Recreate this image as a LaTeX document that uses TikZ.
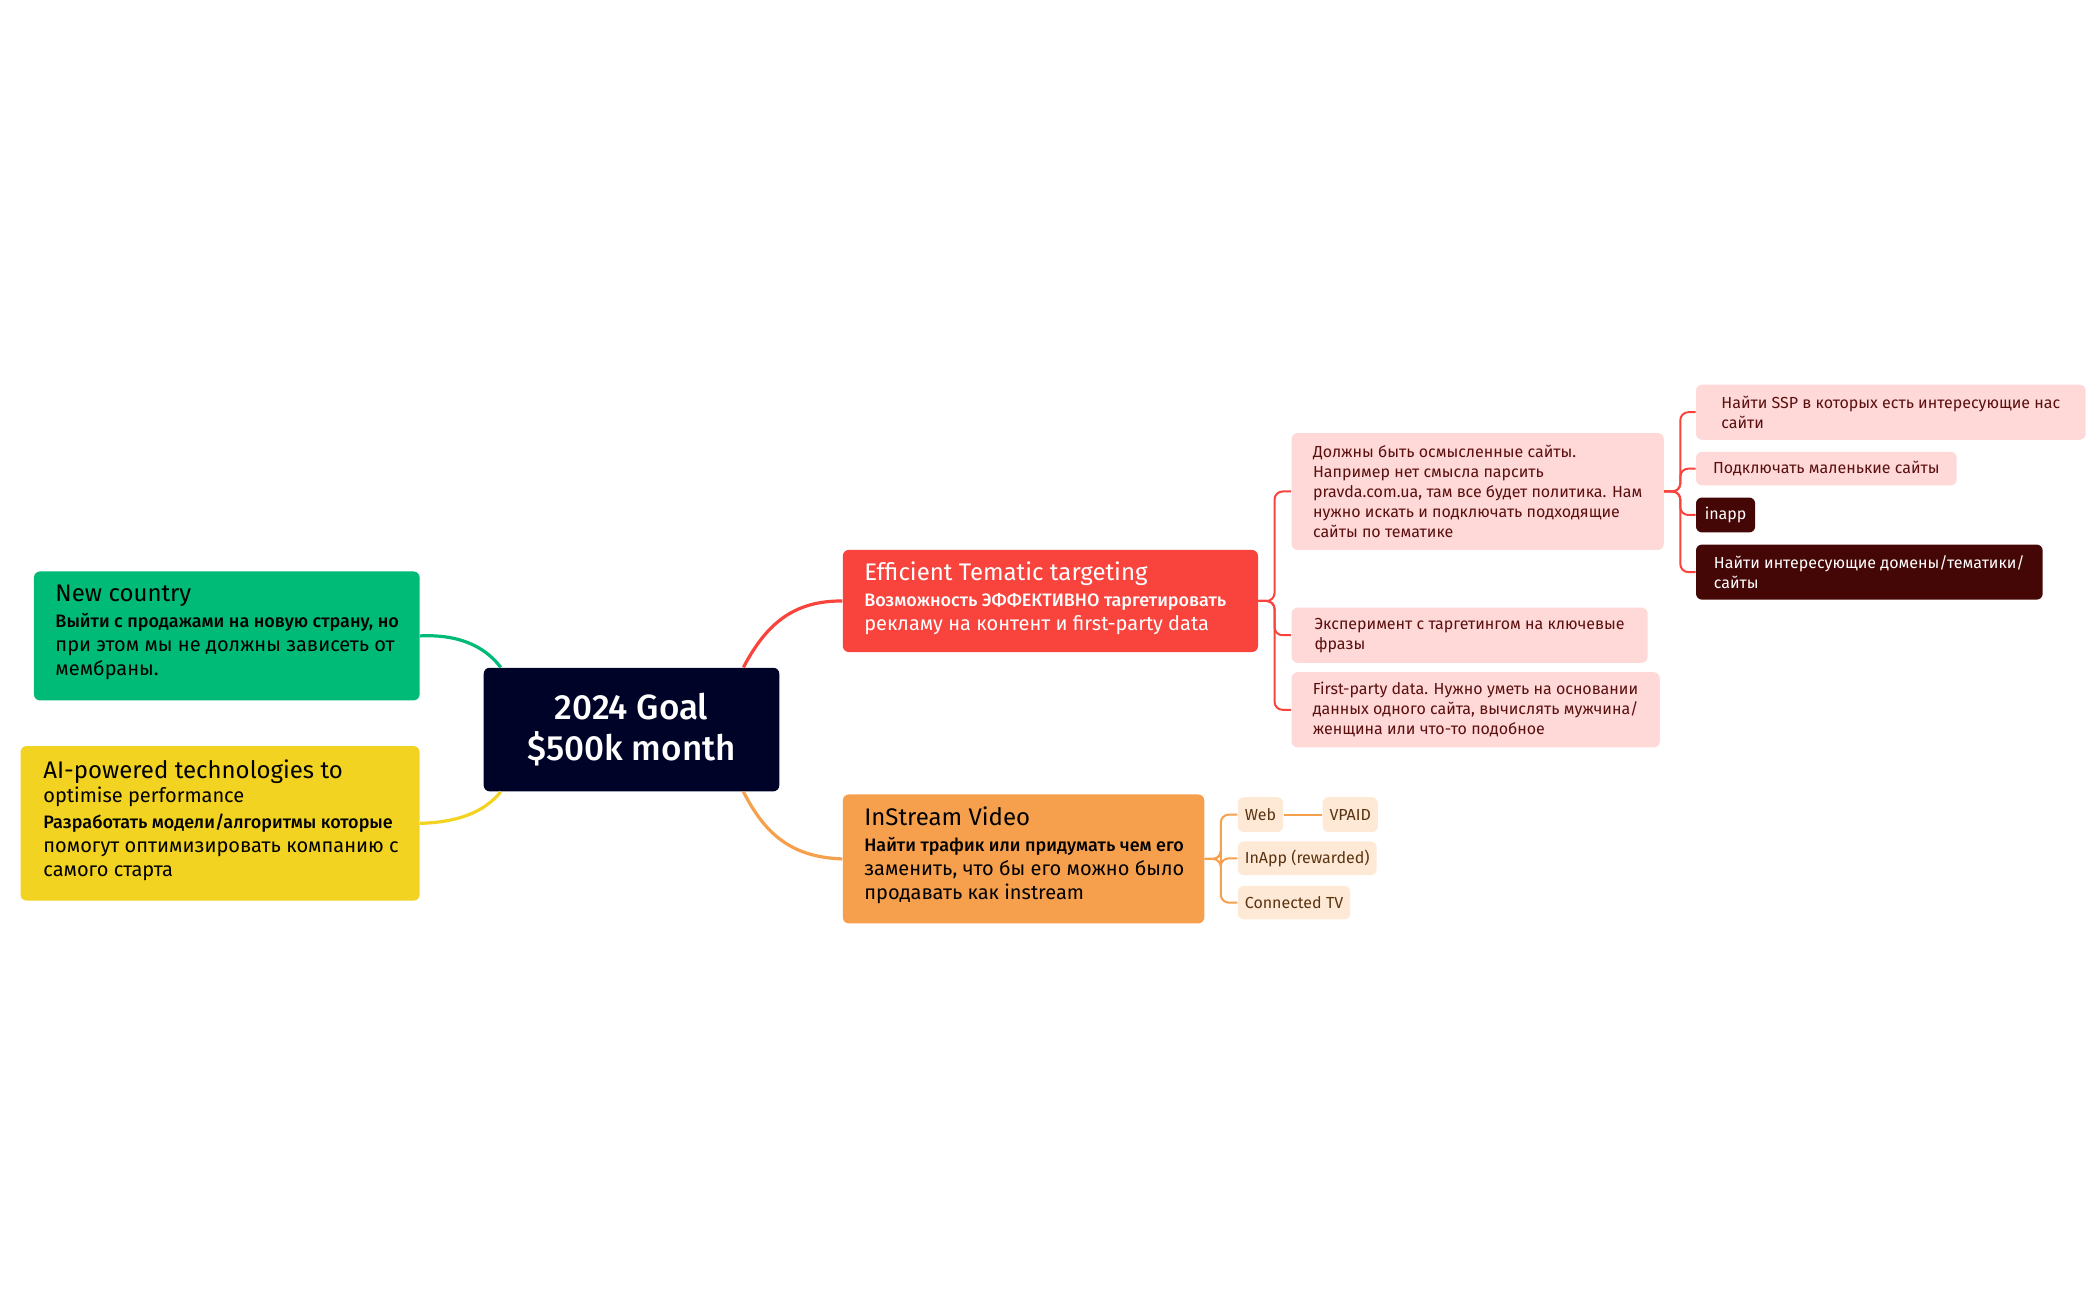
\documentclass[tikz,border=0pt]{standalone}
\usepackage{fontspec}
\setmainfont{Fira Sans}[BoldFont={Fira Sans Medium}]
\usetikzlibrary{positioning,calc}
\definecolor{goalnavy}{HTML}{000328}
\definecolor{newgreen}{HTML}{00BA78}
\definecolor{aiyellow}{HTML}{F2D321}
\definecolor{tematicred}{HTML}{F8443D}
\definecolor{streamorange}{HTML}{F6A04D}
\definecolor{redpale}{HTML}{FFD8D8}
\definecolor{redtext}{HTML}{5A0F0F}
\definecolor{reddark}{HTML}{450606}
\definecolor{orangepale}{HTML}{FEE8D6}
\definecolor{orangetext}{HTML}{5A3410}
\newcommand{\headsize}{\fontsize{12}{14}\selectfont\mdseries}
\newcommand{\bodysize}{\fontsize{9}{13.1}\selectfont\bfseries}

\begin{document}
\begin{tikzpicture}[
        x=0.672pt, y=-0.672pt,
        main/.style={rounded corners=3pt, anchor=north west, align=left, inner sep=0pt},
        boxtext/.style={anchor=north west, align=left, inner sep=0pt},
        sub/.style={rounded corners=3pt, anchor=north west, align=left, inner xsep=3.5pt, inner ysep=3pt,
            font=\fontsize{8}{10}\selectfont},
        redsub/.style={sub, fill=redpale, text=redtext},
        darksub/.style={sub, fill=reddark, text=white},
        orangesub/.style={sub, fill=orangepale, text=orangetext},
        branch/.style={line width=1.6pt},
        twig/.style={line width=1pt, rounded corners=4pt}
    ]
        \useasboundingbox (0,0) rectangle (1560,968);

        % Central goal
        \node[fill=goalnavy, text=white, rounded corners=3pt, minimum width=220*0.672pt, minimum height=92*0.672pt,
            align=center, font=\fontsize{17.5}{20.8}\selectfont\bfseries] (goal) at (470,543) {2024 Goal\\\$500k month};

        % Main branches
        \node[main, fill=newgreen, minimum width=287*0.672pt, minimum height=96*0.672pt] (newc) at (25,425) {};
        \node[boxtext] (newclbl) at (41,435)
            {\headsize New country\\[1pt]
             \bodysize Выйти с продажами на новую страну, но\\при этом мы не должны зависеть от\\мембраны.};

        \node[main, fill=aiyellow, minimum width=297*0.672pt, minimum height=115*0.672pt] (ai) at (15,555) {};
        \node[boxtext] (ailbl) at (32,565)
            {\headsize AI-powered technologies to\\optimise performance\\[1pt]
             \bodysize Разработать модели/алгоритмы которые\\помогут оптимизировать компанию с\\самого старта};

        \node[main, fill=tematicred, minimum width=309*0.672pt, minimum height=76*0.672pt] (tematic) at (627,409) {};
        \node[boxtext, text=white] (tematiclbl) at (643,418)
            {\headsize Efficient Tematic targeting\\[1pt]
             \bodysize Возможность ЭФФЕКТИВНО таргетировать\\рекламу на контент и first-party data};

        \node[main, fill=streamorange, minimum width=269*0.672pt, minimum height=96*0.672pt] (stream) at (627,591) {};
        \node[boxtext] (streamlbl) at (643,600)
            {\headsize InStream Video\\[1pt]
             \bodysize Найти трафик или придумать чем его\\заменить, что бы его можно было\\продавать как instream};

        % Tematic sub-topics
        \node[redsub, minimum width=277*0.672pt, minimum height=87*0.672pt] (sense) at (961,322)
            {Должны быть осмысленные сайты.\\Например нет смысла парсить\\pravda.com.ua, там все будет политика. Нам\\нужно искать и подключать подходящие\\сайты по тематике};
        \node[redsub, minimum width=265*0.672pt, minimum height=41*0.672pt] (phrase) at (961,452)
            {Эксперимент с таргетингом на ключевые\\фразы};
        \node[redsub, minimum width=274*0.672pt, minimum height=56*0.672pt] (firstp) at (961,500)
            {First-party data. Нужно уметь на основании\\данных одного сайта, вычислять мужчина/\\женщина или что-то подобное};

        \node[redsub, minimum width=290*0.672pt, minimum height=41*0.672pt] (ssp) at (1262,286)
            {Найти SSP в которых есть интересующие нас\\сайти};
        \node[redsub, minimum width=194*0.672pt, minimum height=25*0.672pt] (small) at (1262,336)
            {Подключать маленькие сайты};
        \node[darksub, minimum width=44*0.672pt, minimum height=26*0.672pt] (inapp) at (1262,370) {inapp};
        \node[darksub, minimum width=258*0.672pt, minimum height=41*0.672pt] (domains) at (1262,405)
            {Найти интересующие домены/тематики/\\сайты};

        % InStream sub-topics
        \node[orangesub, minimum height=26*0.672pt] (web) at (921,593) {Web};
        \node[orangesub, minimum height=26*0.672pt] (vpaid) at (984,593) {VPAID};
        \node[orangesub, minimum height=25*0.672pt] (rewarded) at (921,626) {InApp (rewarded)};
        \node[orangesub, minimum height=25*0.672pt] (ctv) at (921,659) {Connected TV};

        % Branches from the goal
        \draw[branch, tematicred] ($(goal.north east)+(-27,0)$) .. controls (570,465) and (590,447) .. (tematic.west);
        \draw[branch, streamorange] ($(goal.south east)+(-27,0)$) .. controls (570,622) and (590,638) .. (stream.west);
        \draw[branch, newgreen] ($(goal.north west)+(13,0)$) .. controls (360,480) and (340,472) .. (newc.east);
        \draw[branch, aiyellow] ($(goal.south west)+(13,0)$) .. controls (360,605) and (340,612) .. (ai.east);

        % Tree lines
        \foreach \kid in {sense, phrase, firstp}
            \draw[twig, tematicred] (tematic.east) -- ++(12,0) |- (\kid.west);
        \foreach \kid in {ssp, small, inapp, domains}
            \draw[twig, tematicred] (sense.east) -- ++(12,0) |- (\kid.west);
        \foreach \kid in {web, rewarded, ctv}
            \draw[twig, streamorange] (stream.east) -- ++(12,0) |- (\kid.west);
        \draw[twig, streamorange] (web) -- (vpaid);
    \end{tikzpicture}
\end{document}
